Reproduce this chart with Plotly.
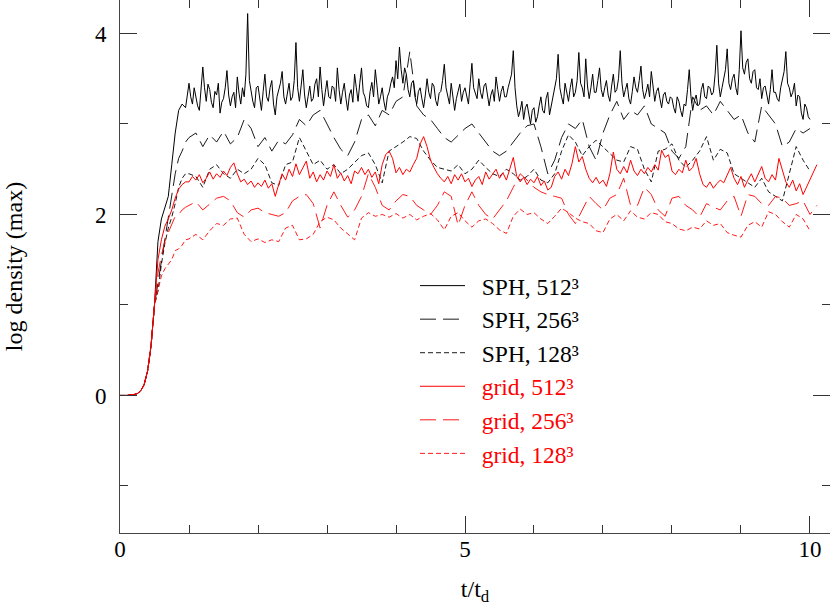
import plotly.graph_objects as go

# ---------------- data ----------------
# early rise, sampled at these times
T_RISE = [0.0, 0.1, 0.2, 0.25, 0.3, 0.35, 0.4, 0.45, 0.5,
          0.55, 0.6, 0.65, 0.7, 0.75, 0.8, 0.85, 0.9, 0.95]
RISE_COMMON = [0.0, 0.0, 0.01, 0.02, 0.05, 0.12, 0.27, 0.55, 1.0]

RISE_SPH512 = [1.70, 1.95, 2.07, 2.20, 2.55, 2.90, 3.15, 3.22, 3.18]
RISE_SPH256 = [1.25, 1.50, 1.70, 1.95, 2.20, 2.45, 2.62, 2.70, 2.80]
RISE_SPH128 = [1.15, 1.45, 1.68, 1.85, 1.97, 2.12, 2.30, 2.40, 2.45]
RISE_GRID512 = [1.50, 1.72, 1.87, 1.95, 2.05, 2.18, 2.28, 2.33, 2.36]
RISE_GRID256 = [1.35, 1.55, 1.70, 1.80, 1.90, 1.98, 2.00, 2.05, 2.08]
RISE_GRID128 = [1.15, 1.32, 1.40, 1.45, 1.50, 1.60, 1.62, 1.66, 1.72]

# sampling steps (in t_d) after t = 1
STEP_SPH512 = 0.025
STEP_GRID512 = 0.05
STEP_DASHED = 0.1

# SPH 512^3: one row per unit of t (t = k.000 ... k.975)
SPH512 = [
    3.45, 3.30, 3.22, 3.40, 3.30, 3.20, 3.15, 3.35, 3.63, 3.40, 3.25, 3.44, 3.38, 3.24, 3.18, 3.36, 3.32, 3.45, 3.12, 3.24,
    3.28, 3.40, 3.59, 3.32, 3.20, 3.30, 3.35, 3.18, 3.52, 3.34, 3.22, 3.40, 3.30, 3.55, 4.22, 3.48, 3.35, 3.25, 3.18, 3.40,
    3.42, 3.28, 3.15, 3.36, 3.55, 3.30, 3.25, 3.40, 3.48, 3.22, 3.10, 3.30, 3.38, 3.45, 3.58, 3.30, 3.22, 3.35, 3.45, 3.26,
    3.30, 3.48, 3.90, 3.40, 3.25, 3.42, 3.60, 3.32, 3.18, 3.30, 3.42, 3.25, 3.28, 3.44, 3.50, 3.30, 3.63, 3.38, 3.20, 3.35,
    3.48, 3.30, 3.28, 3.42, 3.40, 3.25, 3.62, 3.38, 3.22, 3.35, 3.45, 3.28, 3.15, 3.32, 3.38, 3.24, 3.55, 3.40, 3.25, 3.45,
    3.62, 3.35, 3.30, 3.20, 3.18, 3.36, 3.46, 3.30, 3.60, 3.42, 3.22, 3.30, 3.40, 3.25, 3.15, 3.30, 3.35, 3.45, 3.52, 3.40,
    3.70, 3.50, 3.85, 3.60, 3.45, 3.62, 3.55, 3.38, 3.30, 3.45, 3.48, 3.30, 3.22, 3.36, 3.40, 3.28, 3.18, 3.32, 3.50, 3.35,
    3.28, 3.45, 3.42, 3.26, 3.20, 3.34, 3.36, 3.48, 3.66, 3.40, 3.30, 3.22, 3.45, 3.30, 3.15, 3.28, 3.38, 3.44, 3.25, 3.35,
    3.40, 3.30, 3.22, 3.45, 3.67, 3.40, 3.35, 3.28, 3.50, 3.35, 3.28, 3.42, 3.45, 3.30, 3.20, 3.32, 3.38, 3.25, 3.52, 3.38,
    3.25, 3.36, 3.42, 3.30, 3.30, 3.40, 3.48, 3.55, 3.81, 3.40, 3.20, 3.08, 3.15, 3.25, 3.05, 3.18, 3.22, 3.10, 3.00, 3.15,
    3.18, 3.02, 3.08, 3.20, 3.30, 3.15, 3.12, 3.28, 3.35, 3.10, 3.20, 3.32, 3.42, 3.50, 3.77, 3.40, 3.30, 3.22, 3.45, 3.35,
    3.25, 3.40, 3.50, 3.30, 3.35, 3.48, 3.79, 3.45, 3.40, 3.30, 3.72, 3.42, 3.28, 3.40, 3.55, 3.35, 3.35, 3.48, 3.62, 3.38,
    3.30, 3.40, 3.48, 3.32, 3.25, 3.42, 3.55, 3.35, 3.38, 3.50, 3.81, 3.45, 3.30, 3.38, 3.45, 3.28, 3.22, 3.36, 3.52, 3.40,
    3.35, 3.48, 3.64, 3.38, 3.28, 3.35, 3.44, 3.30, 3.58, 3.42, 3.25, 3.36, 3.40, 3.28, 3.18, 3.32, 3.35, 3.25, 3.22, 3.30,
    3.28, 3.18, 3.12, 3.30, 3.25, 3.15, 3.08, 3.22, 3.20, 3.38, 3.60, 3.30, 3.15, 3.26, 3.32, 3.20, 3.22, 3.38, 3.45, 3.30,
    3.28, 3.42, 3.40, 3.32, 3.35, 3.55, 3.87, 3.45, 3.30, 3.40, 3.50, 3.60, 3.83, 3.45, 3.38, 3.50, 3.55, 3.40, 3.32, 3.60,
    4.03, 3.62, 3.55, 3.68, 3.72, 3.50, 3.45, 3.58, 3.60, 3.40, 3.38, 3.50, 3.28, 3.40, 3.42, 3.30, 3.22, 3.38, 3.60, 3.35,
    3.35, 3.28, 3.25, 3.40, 3.48, 3.58, 3.80, 3.45, 3.40, 3.30, 3.35, 3.45, 3.20, 3.32, 3.30, 3.12, 3.05, 3.22, 3.18, 3.08,
    3.05,
]

SPH256 = [
    2.85, 2.90, 2.75, 2.88, 2.80, 2.92, 2.78, 2.85, 3.05, 2.95,
    2.75, 2.85, 2.70, 2.82, 2.78, 2.88, 3.05, 2.98, 3.10, 3.15,
    3.00, 2.85, 2.72, 2.65, 2.80, 3.05, 3.10, 2.98, 3.15, 3.10,
    3.25, 3.30, 3.80, 3.20, 3.10, 3.05, 2.95, 2.85, 2.80, 2.88,
    2.95, 3.00, 2.90, 2.80, 2.70, 2.65, 2.70, 2.80, 2.90, 2.98,
    3.00, 2.75, 2.45, 2.60, 2.85, 3.00, 2.95, 3.05, 2.75, 2.60,
    2.90, 3.10, 3.25, 3.05, 3.15, 3.10, 3.20, 3.00, 2.95, 2.90,
    2.70, 2.62, 2.75, 3.30, 3.15, 3.20, 3.10, 3.25, 3.15, 3.05,
    3.10, 2.90, 2.80, 3.20, 3.10, 3.00, 2.75, 2.80, 2.95, 2.90,
    2.95,
]

SPH128 = [
    2.45, 2.42, 2.30, 2.50, 2.55, 2.45, 2.40, 2.50, 2.45, 2.50,
    2.62, 2.55, 2.35, 2.32, 2.55, 2.58, 2.85, 2.70, 2.55, 2.60,
    2.50, 2.55, 2.45, 2.50, 2.58, 2.65, 2.68, 2.55, 2.35, 2.70,
    2.75, 2.80, 2.86, 2.84, 2.70, 2.60, 2.52, 2.50, 2.48, 2.55,
    2.45, 2.50, 2.60, 2.52, 2.45, 2.42, 2.50, 2.45, 2.38, 2.42,
    2.50, 2.38, 2.35, 2.45, 2.70, 2.88, 2.80, 2.65, 2.75, 2.82,
    2.75, 2.68, 2.60, 2.58, 2.75, 2.72, 2.50, 2.36, 2.70, 2.72,
    2.78, 2.60, 2.52, 2.60, 2.70, 2.86, 2.60, 2.72, 2.68, 2.45,
    2.40, 2.35, 2.30, 2.40, 2.25, 2.20, 2.15, 2.45, 2.75, 2.60,
    2.48,
]

GRID512 = [
    2.36, 2.42, 2.38, 2.44, 2.35, 2.40, 2.47, 2.39, 2.45, 2.41, 2.48, 2.43, 2.52, 2.57, 2.45, 2.36, 2.39, 2.33, 2.37, 2.30,
    2.35, 2.31, 2.38, 2.29, 2.34, 2.20, 2.33, 2.45, 2.38, 2.50, 2.42, 2.56, 2.44, 2.52, 2.59, 2.40, 2.47, 2.36, 2.44, 2.38,
    2.48, 2.42, 2.55, 2.40, 2.46, 2.37, 2.43, 2.34, 2.48, 2.45, 2.52, 2.44, 2.50, 2.41, 2.47, 2.34, 2.55, 2.66, 2.70, 2.62,
    2.46, 2.52, 2.44, 2.50, 2.47, 2.55, 2.62, 2.78, 2.86, 2.75, 2.60, 2.52, 2.45, 2.40, 2.36, 2.42, 2.34, 2.44, 2.38, 2.45,
    2.36, 2.40, 2.31, 2.38, 2.42, 2.33, 2.47, 2.39, 2.45, 2.50, 2.40, 2.46, 2.38, 2.52, 2.63, 2.42, 2.36, 2.41, 2.33, 2.39,
    2.35, 2.42, 2.32, 2.37, 2.27, 2.30, 2.42, 2.47, 2.39, 2.50, 2.43, 2.56, 2.75, 2.58, 2.64, 2.50, 2.40, 2.35, 2.41, 2.34,
    2.38, 2.31, 2.45, 2.69, 2.50, 2.45, 2.53, 2.46, 2.60, 2.48, 2.43, 2.50, 2.45, 2.52, 2.47, 2.55, 2.49, 2.71, 2.63, 2.66,
    2.48, 2.44, 2.50, 2.46, 2.60, 2.48, 2.52, 2.62, 2.45, 2.33, 2.30, 2.36, 2.29, 2.34, 2.38, 2.35, 2.44, 2.52, 2.40, 2.33,
    2.42, 2.30, 2.38, 2.45, 2.36, 2.44, 2.53, 2.40, 2.36, 2.44, 2.38, 2.62, 2.50, 2.36, 2.30, 2.38, 2.26, 2.34, 2.22, 2.30,
    2.38, 2.46, 2.55,
]

GRID256 = [
    2.10, 2.14, 2.05, 2.12, 2.18, 2.20, 2.15, 2.02, 1.97, 2.05,
    2.07, 2.02, 2.00, 1.98, 2.02, 2.15, 2.20, 2.22, 2.12, 1.85,
    2.10, 2.25, 2.10, 1.97, 2.05, 2.20, 2.45, 2.30, 2.10, 2.05,
    2.15, 2.22, 2.20, 2.10, 2.05, 2.00, 2.10, 2.25, 2.20, 1.88,
    2.10, 2.25, 2.10, 2.00, 1.95, 2.05, 2.15, 2.30, 2.45, 2.38,
    2.30, 2.25, 2.22, 2.20, 2.18, 2.00, 1.90, 2.05, 2.20, 2.12,
    2.05, 2.18, 2.22, 2.40, 2.10, 2.10, 2.30, 2.22, 2.05, 1.98,
    2.18, 2.20, 2.10, 2.05, 1.97, 2.12, 2.08, 2.05, 2.15, 2.20,
    1.98, 2.22, 2.20, 2.12, 2.10, 2.20, 2.18, 2.10, 2.12, 2.15,
    2.00, 2.10,
]

GRID128 = [
    1.73, 1.78, 1.72, 1.82, 1.90, 1.88, 1.95, 1.96, 1.78, 1.70,
    1.73, 1.69, 1.72, 1.70, 1.85, 1.88, 1.72, 1.73, 1.78, 1.92,
    1.97, 1.94, 1.85, 1.78, 1.72, 1.96, 2.02, 1.98, 2.00, 1.97,
    2.01, 1.96, 2.00, 1.94, 1.98, 2.01, 1.94, 1.83, 1.98, 2.02,
    1.93, 1.86, 1.93, 1.95, 1.90, 1.83, 1.79, 1.98, 2.06, 2.00,
    2.02, 1.95, 1.90, 1.98, 2.07, 2.02, 1.96, 1.92, 1.90, 1.82,
    1.80, 1.95, 2.00, 1.93, 2.04, 1.97, 1.95, 2.02, 2.00, 1.92,
    1.90, 1.84, 1.82, 1.86, 1.84, 1.93, 1.88, 1.90, 1.80, 1.77,
    1.75, 1.88, 1.92, 1.86, 2.03, 2.00, 1.92, 1.86, 2.00, 1.95,
    1.82,
]

NAMES = ["SPH, 512³", "SPH, 256³", "SPH, 128³",
         "grid, 512³", "grid, 256³", "grid, 128³"]

X_TICKS = [0, 5, 10]
Y_TICKS = [0, 2, 4]

# ---------------- build ----------------
def series(rise, values, step):
    t = list(T_RISE) + [round(1.0 + step * i, 3) for i in range(len(values))]
    y = list(RISE_COMMON) + list(rise) + list(values)
    return t, y

BLACK = "#000000"
RED = "#ff0000"
specs = [
    (RISE_SPH512, SPH512, STEP_SPH512, BLACK, "solid", 1.0),
    (RISE_SPH256, SPH256, STEP_DASHED, BLACK, "16px,7px", 0.9),
    (RISE_SPH128, SPH128, STEP_DASHED, BLACK, "5px,3px", 0.9),
    (RISE_GRID512, GRID512, STEP_GRID512, RED, "solid", 1.0),
    (RISE_GRID256, GRID256, STEP_DASHED, RED, "16px,7px", 0.9),
    (RISE_GRID128, GRID128, STEP_DASHED, RED, "5px,3px", 0.9),
]

NB = "\u00a0\u00a0"
fig = go.Figure()
for name, (rise, vals, step, col, dash, w) in zip(NAMES, specs):
    t, y = series(rise, vals, step)
    label = NB + name if col == BLACK else NB + '<span style="color:#ff0000">' + name + '</span>'
    fig.add_trace(go.Scatter(x=t, y=y, mode="lines", name=label,
                             line=dict(color=col, width=w, dash=dash)))

FONT = "Liberation Serif"
axis_common = dict(
    showline=True, linecolor="#444444", linewidth=1, mirror="allticks",
    ticks="inside", ticklen=17, tickwidth=1, tickcolor="#333333",
    showgrid=False, zeroline=False,
    tickfont=dict(family=FONT, size=23, color="#000000"),
    minor=dict(ticks="inside", ticklen=8, tickwidth=1, tickcolor="#333333",
               dtick=1, showgrid=False),
)

fig.update_xaxes(range=[0, 10.29], tickmode="array", tickvals=X_TICKS,
                 title=dict(text="t/t<sub>d</sub>", font=dict(family=FONT, size=24, color="#000000"),
                            standoff=26),
                 ticklabelstandoff=-5, **axis_common)
fig.update_yaxes(range=[-1.52, 4.37], tickmode="array", tickvals=Y_TICKS,
                 title=dict(text="log density (max)", font=dict(family=FONT, size=24, color="#000000"),
                            standoff=65),
                 ticklabelstandoff=8, **axis_common)

fig.update_layout(
    width=830, height=606,
    margin=dict(l=120, r=0, t=0, b=73, autoexpand=False),
    paper_bgcolor="white", plot_bgcolor="white",
    font=dict(family=FONT, size=22, color="#000000"),
    showlegend=True,
    legend=dict(x=0.4155, y=0.505, xanchor="left", yanchor="top",
                bgcolor="rgba(0,0,0,0)", borderwidth=0,
                font=dict(family=FONT, size=23.5, color="#000000"),
                itemwidth=45, tracegroupgap=0),
)

fig.write_html("out.html", config={"displayModeBar": False},
               post_script="document.body.style.margin='0';document.body.style.padding='0';")
